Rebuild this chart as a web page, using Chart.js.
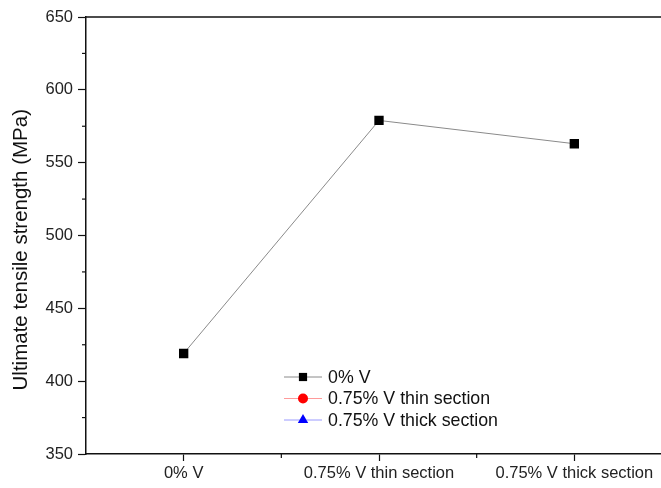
<!DOCTYPE html>
<html>
<head>
<meta charset="utf-8">
<script src="https://cdn.jsdelivr.net/npm/chart.js@4"></script>
<style>
  html, body { margin: 0; padding: 0; background: #fff; overflow: hidden; width: 661px; height: 488px; }
  #uts { display: block; }
</style>
</head>
<body>
<canvas id="uts" width="680" height="488" style="width:680px;height:488px"></canvas>
<script>
// categories and values
const categories = ['0% V', '0.75% V thin section', '0.75% V thick section'];
const uts0V = [419, 579, 563];
const utsThin = [null, null, null];   // no points visible in the figure
const utsThick = [null, null, null];  // no points visible in the figure
const seriesNames = ['0% V', '0.75% V thin section', '0.75% V thick section'];
const yTicks = [350, 400, 450, 500, 550, 600, 650];

const FONT = 'Liberation Sans, Arial, sans-serif';

// minor ticks, top frame line and legend inside the plot
const framePlugin = {
  id: 'frame',
  afterDraw(chart) {
    const ctx = chart.ctx;
    const area = chart.chartArea;
    const x = chart.scales.x, y = chart.scales.y;
    ctx.save();
    ctx.strokeStyle = '#111';
    ctx.lineWidth = 1.5;
    // top line
    ctx.beginPath();
    ctx.moveTo(area.left, area.top);
    ctx.lineTo(area.right + 5, area.top);
    ctx.stroke();
    // y minor ticks
    ctx.lineWidth = 1.2;
    for (let v = 375; v < 650; v += 50) {
      const py = y.getPixelForValue(v);
      ctx.beginPath();
      ctx.moveTo(area.left - 4, py);
      ctx.lineTo(area.left, py);
      ctx.stroke();
    }
    // x minor ticks halfway between categories
    for (let i = 0; i < categories.length - 1; i++) {
      const px = (x.getPixelForValue(i) + x.getPixelForValue(i + 1)) / 2;
      ctx.beginPath();
      ctx.moveTo(px, area.bottom);
      ctx.lineTo(px, area.bottom + 4);
      ctx.stroke();
    }
    // legend
    const lx = 284, ly = 377, rowH = 21.5;
    chart.data.datasets.forEach((ds, i) => {
      const cy = ly + i * rowH;
      ctx.strokeStyle = ds.borderColor;
      ctx.lineWidth = 1;
      ctx.beginPath();
      ctx.moveTo(lx, cy);
      ctx.lineTo(lx + 38, cy);
      ctx.stroke();
      ctx.fillStyle = ds.pointBackgroundColor;
      ctx.strokeStyle = ds.pointBackgroundColor;
      Chart.helpers.drawPoint(ctx, {
        pointStyle: ds.pointStyle,
        radius: ds.legendRadius,
        borderWidth: 0,
        rotation: 0
      }, lx + 19, cy);
      ctx.fillStyle = '#111';
      ctx.font = '17.8px ' + FONT;
      ctx.textBaseline = 'middle';
      ctx.textAlign = 'left';
      ctx.fillText(ds.label, lx + 44, cy + 1);
    });
    ctx.restore();
  }
};

new Chart(document.getElementById('uts'), {
  type: 'line',
  data: {
    labels: categories,
    datasets: [
      {
        label: seriesNames[0],
        data: uts0V,
        borderColor: '#8a8a8a',
        borderWidth: 1,
        pointStyle: 'rect',
        pointRadius: 6.6,
        pointBackgroundColor: '#000',
        pointBorderWidth: 0,
        legendRadius: 5.8
      },
      {
        label: seriesNames[1],
        data: utsThin,
        borderColor: '#ff9a9a',
        borderWidth: 1,
        pointStyle: 'circle',
        pointRadius: 5,
        pointBackgroundColor: '#ff0000',
        pointBorderWidth: 0,
        legendRadius: 5
      },
      {
        label: seriesNames[2],
        data: utsThick,
        borderColor: '#9a9aff',
        borderWidth: 1,
        pointStyle: 'triangle',
        pointRadius: 6,
        pointBackgroundColor: '#0000ff',
        pointBorderWidth: 0,
        legendRadius: 6
      }
    ]
  },
  options: {
    responsive: false,
    devicePixelRatio: 1,
    animation: false,
    layout: { padding: { left: 0, top: 17, right: 8, bottom: 0 } },
    plugins: {
      legend: { display: false },
      tooltip: { enabled: false }
    },
    scales: {
      x: {
        type: 'category',
        offset: true,
        border: { display: true, color: '#111', width: 1.5 },
        grid: { display: true, drawOnChartArea: false, tickLength: 7, tickColor: '#111', tickWidth: 1.2, offset: false },
        ticks: { color: '#222', font: { family: FONT, size: 16.5 }, padding: 3, maxRotation: 0 },
        afterFit(scale) { scale.height = 34; }
      },
      y: {
        min: 350,
        max: 650,
        border: { display: true, color: '#111', width: 1.5 },
        grid: { display: true, drawOnChartArea: false, tickLength: 8, tickColor: '#111', tickWidth: 1.2 },
        afterBuildTicks(scale) { scale.ticks = yTicks.map(v => ({ value: v })); },
        ticks: { color: '#222', font: { family: FONT, size: 16.5 }, padding: 5 },
        title: {
          display: true,
          // trailing spaces nudge the centred title down a little, like the original
          text: 'Ultimate tensile strength (MPa)     ',
          color: '#111',
          font: { family: FONT, size: 20.5 },
          padding: { top: 9 }
        },
        afterFit(scale) { scale.width = 86; }
      }
    }
  },
  plugins: [framePlugin]
});
</script>
</body>
</html>
